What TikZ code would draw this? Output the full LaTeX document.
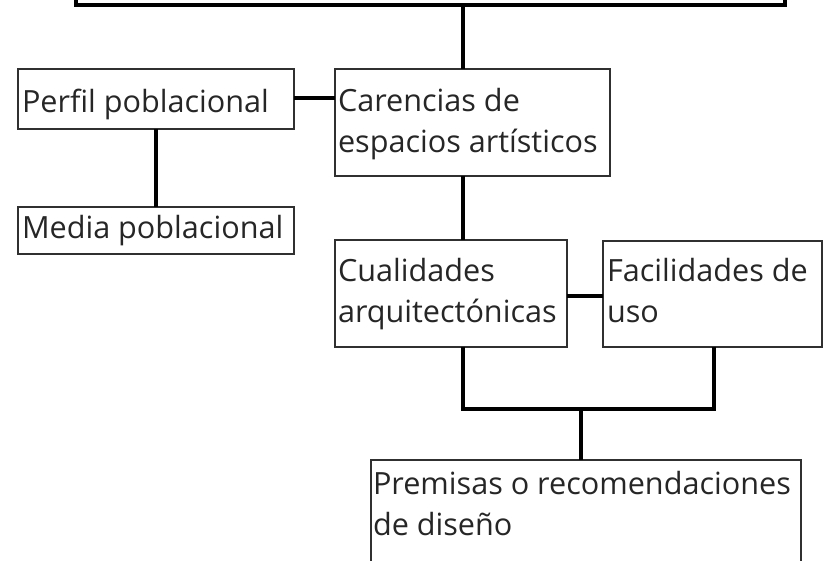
\documentclass[tikz,border=0pt]{standalone}
\usepackage{fontspec}
\setmainfont{Open Sans}
\definecolor{boxline}{RGB}{48,48,48}
\definecolor{txtcol}{RGB}{38,38,38}
\tikzset{
  box/.style={draw=boxline, line width=2pt, inner sep=0pt, outer sep=0pt, anchor=north west, fill=none},
  topbox/.style={draw=black, line width=4pt, inner sep=0pt, outer sep=0pt, anchor=south west},
  conn/.style={draw=black, line width=3.6pt, line join=miter},
  lbl/.style={anchor=base west, inner sep=0pt, outer sep=0pt, align=left, text=txtcol,
    font=\fontsize{30.6pt}{40.5pt}\selectfont}
}
\begin{document}
\begin{tikzpicture}[x=1pt,y=1pt]
\useasboundingbox (0,0) rectangle (824,-560);
\fill[white] (0,0) rectangle (824,-560);

% boxes
\node[topbox, minimum width=709pt, minimum height=60pt] (top) at (76,-5) {};
\node[box, minimum width=276pt, minimum height=60pt] (perfil) at (18,-69) {};
\node[box, minimum width=276pt, minimum height=47pt] (media) at (18,-207) {};
\node[box, minimum width=275pt, minimum height=107pt] (car) at (335,-69) {};
\node[box, minimum width=232pt, minimum height=107pt] (cual) at (335,-240) {};
\node[box, minimum width=219pt, minimum height=106pt] (faci) at (603,-241) {};
\node[box, minimum width=430pt, minimum height=140pt] (prem) at (371,-460) {};

% texts (anchor = baseline of the last line)
\node[lbl] (perfilt) at (22,-112) {Perfil poblacional};
\node[lbl] (mediat) at (22,-238) {Media poblacional};
\node[lbl] (cart) at (338,-152) {Carencias de\\espacios artísticos};
\node[lbl] (cualt) at (338,-322) {Cualidades\\arquitectónicas};
\node[lbl] (facit) at (607,-322) {Facilidades de\\uso};
\node[lbl] (premt) at (373,-535) {Premisas o recomendaciones\\de diseño};

% connector helpers
\coordinate (xa) at (463,0);
\coordinate (yb) at (0,-98);
\coordinate (yc) at (0,-296);
\coordinate (j1) at (463,-409);
\coordinate (j2) at (714,-409);
\coordinate (j3) at (581,-409);

% connectors
\draw[conn] (top.south -| xa) -- (car.north -| xa);
\draw[conn] (perfil.east |- yb) -- (car.west |- yb);
\draw[conn] (perfil.south) -- (media.north);
\draw[conn] (car.south -| xa) -- (cual.north -| xa);
\draw[conn] (cual.east |- yc) -- (faci.west |- yc);
\draw[conn] (cual.south -| j1) -- (j1) -- (j2) -- (faci.south -| j2);
\draw[conn] (j3) -- (prem.north -| j3);
\end{tikzpicture}
\end{document}
